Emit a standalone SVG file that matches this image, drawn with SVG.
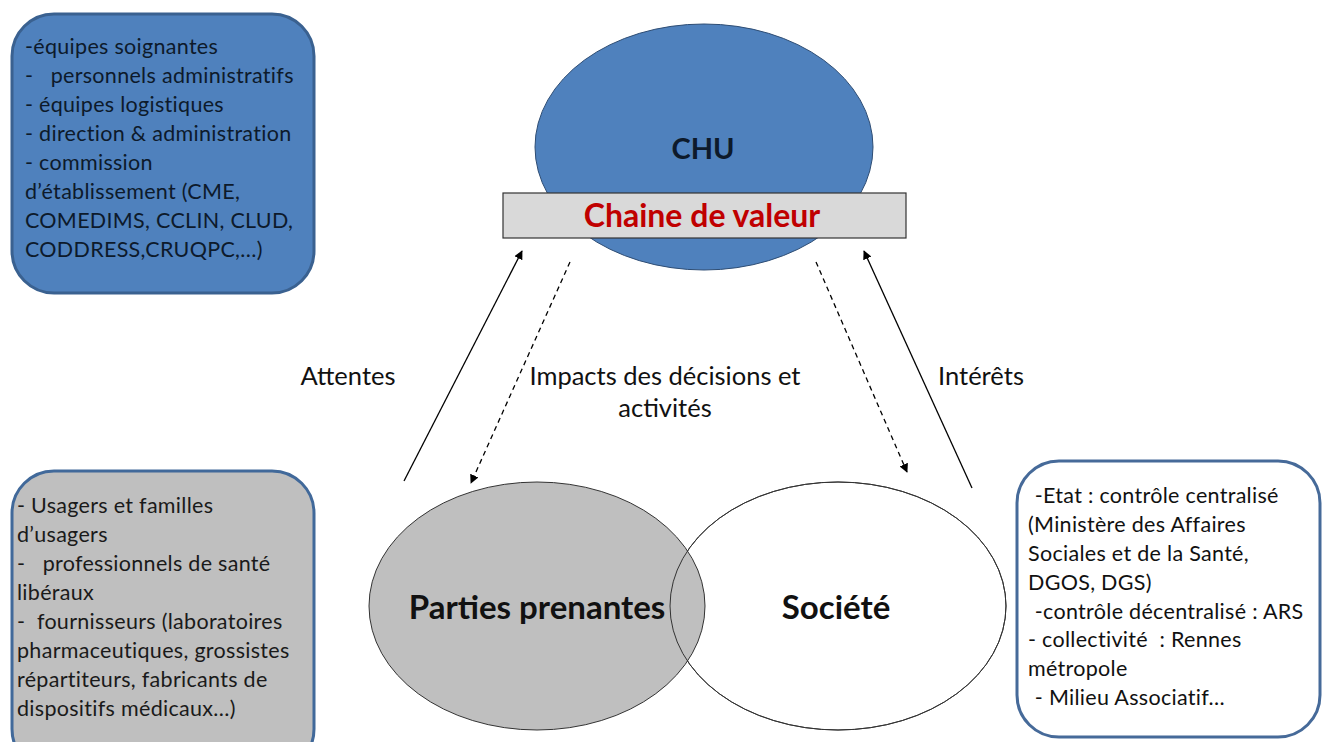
<svg xmlns="http://www.w3.org/2000/svg" width="1328" height="742" viewBox="0 0 1328 742">
  <defs>
    <marker id="arrow" viewBox="0 0 10 10" refX="9" refY="5" markerWidth="9" markerHeight="9" markerUnits="userSpaceOnUse" orient="auto">
      <path d="M0,0 L10,5 L0,10 z" fill="#000"/>
    </marker>
    <style>
      .txt { font-family: Lato, "Liberation Sans", sans-serif; }
      .list { font-size: 21.5px; letter-spacing: 0.3px; }
      .lbl { font-size: 25.5px; fill: #111; }
      .big { font-weight: bold; font-size: 33px; fill: #111; text-anchor: middle; }
      .solid { stroke: #000; stroke-width: 1.3; fill: none; }
      .dash { stroke: #000; stroke-width: 1.3; fill: none; stroke-dasharray: 5 4; }
    </style>
  </defs>
  <rect width="1328" height="742" fill="#fff"/>

  <!-- internal actors box -->
  <g id="box-internes">
    <rect x="12" y="14" width="302" height="279" rx="42" fill="#4f81bd" stroke="#3a6190" stroke-width="3"/>
    <g class="txt list" fill="#0d1a2b">
      <text x="25" y="54">-équipes soignantes</text>
      <text x="25" y="83" xml:space="preserve">-   personnels administratifs</text>
      <text x="25" y="112">- équipes logistiques</text>
      <text x="25" y="141">- direction &amp; administration</text>
      <text x="25" y="170">- commission</text>
      <text x="25" y="199">d’établissement (CME,</text>
      <text x="25" y="228">COMEDIMS, CCLIN, CLUD,</text>
      <text x="25" y="257">CODDRESS,CRUQPC,…)</text>
    </g>
  </g>

  <!-- stakeholders box -->
  <g id="box-parties">
    <rect x="12" y="471" width="302" height="300" rx="42" fill="#bfbfbf" stroke="#41699a" stroke-width="3"/>
    <g class="txt list" fill="#1a1a1a">
      <text x="17" y="513">- Usagers et familles</text>
      <text x="17" y="542">d’usagers</text>
      <text x="17" y="571" xml:space="preserve">-   professionnels de santé</text>
      <text x="17" y="600">libéraux</text>
      <text x="17" y="629" xml:space="preserve">-  fournisseurs (laboratoires</text>
      <text x="17" y="658">pharmaceutiques, grossistes</text>
      <text x="17" y="687">répartiteurs, fabricants de</text>
      <text x="17" y="716">dispositifs médicaux…)</text>
    </g>
  </g>

  <!-- society box -->
  <g id="box-societe">
    <rect x="1017" y="461" width="303" height="276" rx="42" fill="#fff" stroke="#466a99" stroke-width="3"/>
    <g class="txt list" fill="#111">
      <text x="1029" y="503" xml:space="preserve"> -Etat : contrôle centralisé</text>
      <text x="1028" y="532">(Ministère des Affaires</text>
      <text x="1028" y="561">Sociales et de la Santé,</text>
      <text x="1028" y="590">DGOS, DGS)</text>
      <text x="1029" y="619" xml:space="preserve"> -contrôle décentralisé : ARS</text>
      <text x="1028" y="647" xml:space="preserve">- collectivité  : Rennes</text>
      <text x="1028" y="676">métropole</text>
      <text x="1029" y="705" xml:space="preserve"> - Milieu Associatif…</text>
    </g>
  </g>

  <!-- CHU with its value chain bar -->
  <g id="chu">
    <ellipse cx="704" cy="147" rx="169" ry="123" fill="#4f81bd" stroke="#2e4d74" stroke-width="1"/>
    <text class="txt" x="703" y="159" font-size="29" font-weight="bold" fill="#0d1a2b" text-anchor="middle">CHU</text>
  </g>
  <g id="chaine-valeur">
    <rect x="503" y="193" width="403" height="45" fill="#d9d9d9" stroke="#333" stroke-width="1.2"/>
    <text class="txt" x="702" y="227" font-size="32" font-weight="bold" fill="#c00000" text-anchor="middle">Chaine de valeur</text>
  </g>

  <!-- overlapping circles -->
  <g id="societe">
    <ellipse cx="838" cy="606" rx="168" ry="124" fill="#fff" stroke="#333" stroke-width="1"/>
    <text class="txt big" x="836" y="619">Société</text>
  </g>
  <g id="parties-prenantes">
    <ellipse cx="537" cy="606" rx="168" ry="124" fill="#bfbfbf" stroke="#333" stroke-width="1"/>
    <text class="txt big" x="537" y="619">Parties prenantes</text>
  </g>
  <ellipse cx="838" cy="606" rx="168" ry="124" fill="none" stroke="#333" stroke-width="1"/>

  <!-- connectors -->
  <g id="connectors">
    <line class="solid" x1="404" y1="481" x2="522" y2="251" marker-end="url(#arrow)"/>
    <line class="dash" x1="570" y1="262" x2="471" y2="483" marker-end="url(#arrow)"/>
    <line class="dash" x1="816" y1="262" x2="907" y2="472" marker-end="url(#arrow)"/>
    <line class="solid" x1="972" y1="488" x2="864" y2="251" marker-end="url(#arrow)"/>
  </g>

  <!-- connector labels -->
  <g id="labels" class="txt lbl">
    <text x="348" y="385" text-anchor="middle">Attentes</text>
    <text x="665" y="385" text-anchor="middle">Impacts des décisions et</text>
    <text x="665" y="417" text-anchor="middle">activités</text>
    <text x="981" y="385" text-anchor="middle">Intérêts</text>
  </g>
</svg>
